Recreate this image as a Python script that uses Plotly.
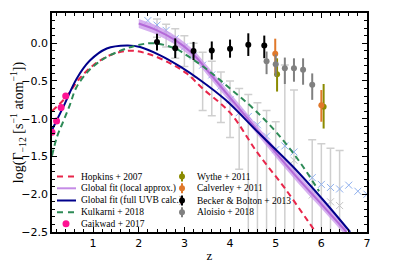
import plotly.graph_objects as go

# ---- data ----
hop_z = [0.1, 0.4, 0.7, 1.05, 1.45, 1.85, 2.25, 2.7, 3.05, 3.4, 4.0, 4.6, 5.2, 5.7, 5.9]
hop_y = [-0.90, -0.72, -0.47, -0.27, -0.14, -0.10, -0.15, -0.27, -0.40, -0.60, -0.92, -1.45, -1.92, -2.35, -2.52]

loc_z = [2.0, 2.4, 2.8, 3.2, 3.5, 4.0, 4.5, 5.0, 5.5, 6.0, 6.55]
loc_y = [0.26, 0.17, 0.04, -0.15, -0.36, -0.72, -1.08, -1.45, -1.80, -2.13, -2.50]
loc_w = 0.06

full_z = [0.1, 0.35, 0.64, 0.93, 1.3, 1.74, 2.03, 2.47, 2.91, 3.35, 3.9, 4.63, 5.37, 6.03, 6.63]
full_y = [-1.15, -0.84, -0.47, -0.23, -0.07, -0.03, -0.05, -0.16, -0.31, -0.49, -0.75, -1.19, -1.63, -2.07, -2.50]

kul_z = [0.1, 0.21, 0.35, 0.49, 0.63, 0.88, 1.1, 1.37, 1.89, 2.33, 2.8, 3.0, 3.5, 4.0, 4.5, 5.0, 5.5, 5.95]
kul_y = [-1.49, -1.24, -1.03, -0.82, -0.59, -0.38, -0.26, -0.16, -0.04, 0.0, -0.07, -0.14, -0.35, -0.60, -0.86, -1.17, -1.55, -1.96]

gai_z = [0.1, 0.2, 0.3, 0.4]
gai_y = [-1.18, -1.03, -0.85, -0.70]

wyt_z = [5.03, 6.05]
wyt_y = [-0.41, -0.84]
wyt_up = [0.21, 0.30]
wyt_dn = [0.23, 0.29]

cal_z = [4.99, 6.0]
cal_y = [-0.14, -0.82]
cal_up = [0.20, 0.20]
cal_dn = [0.25, 0.22]

bb_z = [2.4, 2.8, 3.2, 3.6, 4.0, 4.4, 4.75]
bb_y = [0.015, -0.066, -0.103, -0.097, -0.072, -0.019, -0.029]
bb_up = [0.11, 0.13, 0.12, 0.12, 0.12, 0.15, 0.13]
bb_dn = [0.11, 0.13, 0.12, 0.12, 0.12, 0.15, 0.17]

alo_z = [4.8, 5.0, 5.2, 5.4, 5.6, 5.8]
alo_y = [-0.24, -0.28, -0.33, -0.33, -0.35, -0.55]
alo_up = [0.13, 0.13, 0.14, 0.13, 0.15, 0.15]
alo_dn = [0.17, 0.16, 0.21, 0.18, 0.20, 0.20]

bx_z = [2.2, 2.4, 2.6, 2.8, 3.0, 3.2, 3.4, 3.6, 3.8, 4.0, 4.2, 4.4, 4.6, 4.8, 5.0, 5.2, 5.4,
        5.8, 6.0, 6.2, 6.4, 6.6, 6.8, 7.0]
bx_y = [0.30, 0.24, 0.17, 0.06, -0.05, -0.17, -0.29, -0.42, -0.57, -0.75, -0.92, -0.97, -1.08,
        -1.23, -1.41, -1.36, -1.44, -1.78, -1.87, -1.91, -1.93, -1.88, -1.96, -2.0]

gx_z = [5.4, 5.8, 6.2, 6.4]
gx_y = [-1.55, -2.01, -2.10, -2.15]

eb_z = [2.4, 2.6, 2.8, 3.0, 3.2, 3.4, 3.6, 3.8, 4.0, 4.2, 4.4, 4.6, 4.8, 5.0, 5.2, 5.4, 5.8, 6.0, 6.2, 6.4]
eb_top = [0.32, 0.25, 0.19, 0.10, 0.0, -0.12, -0.24, -0.38, -0.50, -0.60, -0.68, -0.79, -0.89, -1.04,
          -0.29, -0.62, -1.28, -1.33, -1.39, -1.42]
eb_bot = [0.08, -0.05, -0.20, -0.31, -0.45, -0.89, -0.96, -1.05, -1.25, -1.67, -2.8, -2.8, -2.8, -2.8,
          -2.8, -2.8, -2.8, -2.8, -2.8, -2.8]

x_ticks = [1, 2, 3, 4, 5, 6, 7]
y_ticks = [0.0, -0.5, -1.0, -1.5, -2.0, -2.5]
y_tick_text = ["0.0", "\u22120.5", "\u22121.0", "\u22121.5", "\u22122.0", "\u22122.5"]

# legend (text + key style), two columns
leg1_names = ["Hopkins + 2007", "Global fit (local approx.)", "Global fit (full UVB calc.)",
              "Kulkarni + 2018", "Gaikwad + 2017"]
leg1_colors = ["#e8264a", "#c58be6", "#00008b", "#2e8b57", "#ff1493"]
leg1_kind = ["dash", "line", "line", "dash", "dot"]
leg2_names = ["Wythe + 2011", "Calverley + 2011", "Becker &amp; Bolton + 2013", "Aloisio + 2018"]
leg2_colors = ["#8b8b00", "#e0782a", "#000000", "#808080"]

SERIF = "Liberation Serif, DejaVu Serif, serif"
SANS = "DejaVu Sans, sans-serif"

fig = go.Figure()

# light gray error bars belonging to the cross points
fig.add_trace(go.Scatter(
    x=eb_z, y=eb_top, mode="markers",
    marker=dict(size=1, color="rgba(0,0,0,0)"),
    error_y=dict(type="data", symmetric=False, array=[0] * len(eb_z),
                 arrayminus=[t - b for t, b in zip(eb_top, eb_bot)],
                 color="#cfcfcf", thickness=1.5, width=4),
    showlegend=False, hoverinfo="skip"))

fig.add_trace(go.Scatter(
    x=bx_z, y=bx_y, mode="markers",
    marker=dict(symbol="x-thin", size=7, line=dict(color="#8fb0ee", width=1)),
    showlegend=False))
fig.add_trace(go.Scatter(
    x=gx_z, y=gx_y, mode="markers",
    marker=dict(symbol="x-thin", size=7, line=dict(color="#c4c4c4", width=1)),
    showlegend=False))

# purple band (local approx.)
fig.add_trace(go.Scatter(
    x=loc_z, y=[v + loc_w for v in loc_y], mode="lines", line=dict(width=0, shape="spline"),
    showlegend=False, hoverinfo="skip"))
fig.add_trace(go.Scatter(
    x=loc_z, y=[v - loc_w for v in loc_y], mode="lines", line=dict(width=0, shape="spline"),
    fill="tonexty", fillcolor="rgba(200,150,235,0.75)", showlegend=False, hoverinfo="skip"))

fig.add_trace(go.Scatter(
    x=hop_z, y=hop_y, mode="lines", name=leg1_names[0], showlegend=False,
    line=dict(color=leg1_colors[0], width=2, dash="6px,4px", shape="spline")))
fig.add_trace(go.Scatter(
    x=loc_z, y=loc_y, mode="lines", name=leg1_names[1], showlegend=False,
    line=dict(color="#b46ad8", width=2, shape="spline")))
fig.add_trace(go.Scatter(
    x=full_z, y=full_y, mode="lines", name=leg1_names[2], showlegend=False,
    line=dict(color=leg1_colors[2], width=2, shape="spline")))
fig.add_trace(go.Scatter(
    x=kul_z, y=kul_y, mode="lines", name=leg1_names[3], showlegend=False,
    line=dict(color=leg1_colors[3], width=2, dash="6px,4px", shape="spline")))
fig.add_trace(go.Scatter(
    x=gai_z, y=gai_y, mode="markers", name=leg1_names[4], showlegend=False,
    marker=dict(color=leg1_colors[4], size=7)))

def pts(z, y, up, dn, color, name):
    return go.Scatter(
        x=z, y=y, mode="markers", name=name, showlegend=False,
        marker=dict(color=color, size=6),
        error_y=dict(type="data", symmetric=False, array=up, arrayminus=dn,
                     color=color, thickness=2, width=0))

fig.add_trace(pts(wyt_z, wyt_y, wyt_up, wyt_dn, leg2_colors[0], leg2_names[0]))
fig.add_trace(pts(cal_z, cal_y, cal_up, cal_dn, leg2_colors[1], leg2_names[1]))
fig.add_trace(pts(bb_z, bb_y, bb_up, bb_dn, leg2_colors[2], leg2_names[2]))
fig.add_trace(pts(alo_z, alo_y, alo_up, alo_dn, leg2_colors[3], leg2_names[3]))

# ---- compact two-column legend drawn in paper coordinates ----
L, R, T, B = 52, 367, 13, 232
def px(xp):
    return (xp - L) / (R - L)
def py(yp):
    return (B - yp) / (B - T)

leg_font = dict(family=SERIF, size=9.5, color="black")
row_y1 = [176.5, 188.3, 200.5, 212.3, 223.8]
for name, col, kind, yy in zip(leg1_names, leg1_colors, leg1_kind, row_y1):
    if kind in ("dash", "line"):
        fig.add_shape(type="line", xref="paper", yref="paper",
                      x0=px(57), x1=px(76), y0=py(yy), y1=py(yy),
                      line=dict(color=col, width=2, dash="6px,5px" if kind == "dash" else "solid"))
    else:
        fig.add_shape(type="circle", xref="paper", yref="paper",
                      x0=px(62.5), x1=px(69.5), y0=py(yy + 3.5), y1=py(yy - 3.5),
                      fillcolor=col, line=dict(color=col, width=0))
    fig.add_annotation(x=px(79), y=py(yy), xref="paper", yref="paper", text=name,
                       showarrow=False, xanchor="left", yanchor="middle", font=leg_font)

row_y2 = [176.5, 188.3, 200.5, 212.3]
for name, col, yy in zip(leg2_names, leg2_colors, row_y2):
    fig.add_shape(type="line", xref="paper", yref="paper",
                  x0=px(182), x1=px(182), y0=py(yy - 5), y1=py(yy + 5),
                  line=dict(color=col, width=2))
    fig.add_shape(type="circle", xref="paper", yref="paper",
                  x0=px(179), x1=px(185), y0=py(yy + 3), y1=py(yy - 3),
                  fillcolor=col, line=dict(color=col, width=0))
    fig.add_annotation(x=px(195), y=py(yy), xref="paper", yref="paper", text=name,
                       showarrow=False, xanchor="left", yanchor="middle", font=leg_font)

axis_common = dict(
    showline=True, linecolor="black", linewidth=1.5, mirror="ticks",
    ticks="inside", ticklen=5, tickwidth=1, tickcolor="black",
    showgrid=False, zeroline=False, automargin=False,
    tickfont=dict(family=SANS, size=11, color="black"),
)

fig.update_xaxes(range=[0.1, 7], tickvals=x_ticks,
                 minor=dict(ticks="inside", ticklen=3, dtick=0.2, tick0=0, tickcolor="black"),
                 title=dict(text="z", font=dict(family=SERIF, size=13, color="black"), standoff=2),
                 **axis_common)
fig.update_yaxes(range=[-2.5, 0.4], tickvals=y_ticks, ticktext=y_tick_text,
                 minor=dict(ticks="inside", ticklen=3, dtick=0.1, tick0=0, tickcolor="black"),
                 title=dict(text="log(\u0393<sub>\u221212</sub> [s<sup>\u22121</sup> atom<sup>\u22121</sup>])",
                            font=dict(family=SERIF, size=14, color="black"), standoff=2),
                 **axis_common)

# the page body has an 8px margin, so the figure is drawn 8px in from the window corner
fig.update_layout(
    width=391, height=258,
    margin=dict(l=44, r=32, t=5, b=34),
    paper_bgcolor="white", plot_bgcolor="white",
    showlegend=False,
)

fig.write_html("out.html")
